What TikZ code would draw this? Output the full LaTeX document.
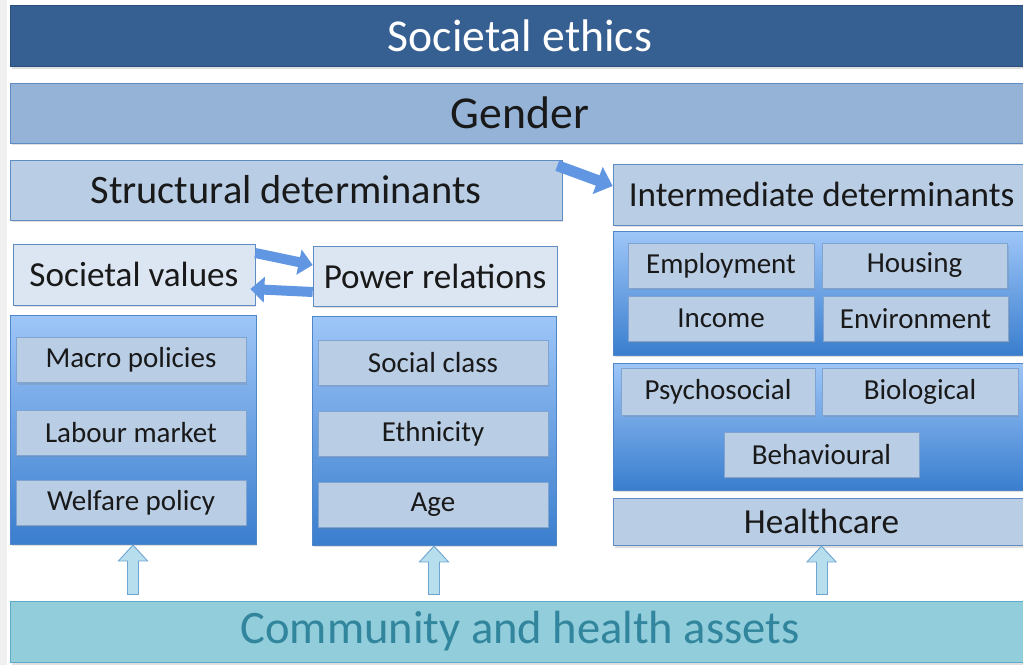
\documentclass[tikz,border=0pt]{standalone}
\usepackage{fontspec}
\setmainfont{Carlito}
\usetikzlibrary{arrows.meta, positioning, calc, shadows}

\definecolor{ethicsfill}{RGB}{55,96,146}
\definecolor{ethicsedge}{RGB}{44,80,125}
\definecolor{genderfill}{RGB}{149,179,215}
\definecolor{edgeblue}{RGB}{96,140,196}
\definecolor{barfill}{RGB}{185,205,229}
\definecolor{palefill}{RGB}{220,230,242}
\definecolor{paneltop}{RGB}{158,198,248}
\definecolor{panelbot}{RGB}{58,126,206}
\definecolor{paneledge}{RGB}{80,135,200}
\definecolor{arrowblue}{RGB}{96,150,226}
\definecolor{assetfill}{RGB}{146,205,220}
\definecolor{assetedge}{RGB}{95,170,200}
\definecolor{assettext}{RGB}{49,133,156}
\definecolor{upfill}{RGB}{183,222,236}
\definecolor{upedge}{RGB}{110,165,210}

\begin{document}
\begin{tikzpicture}[x=0.02cm, y=-0.02cm,
    box/.style={draw=edgeblue, inner sep=0pt, text=black!90,
        drop shadow={opacity=0.25, shadow xshift=0.03cm, shadow yshift=-0.05cm}},
    bar/.style={box, minimum width=20.4cm, minimum height=1.22cm},
    head/.style={box, fill=barfill, minimum height=1.2cm},
    item/.style={box, fill=barfill, draw=edgeblue!80, minimum width=4.6cm,
        minimum height=0.9cm, font=\fontsize{16.5}{18}\selectfont},
    panel/.style={box, draw=paneledge, top color=paneltop, bottom color=panelbot},
    blockarrow/.style={draw=arrowblue, line width=0.2cm,
        -{Triangle[length=0.28cm, width=0.5cm]}},
    upout/.style={draw=upedge, line width=0.24cm, shorten <=0.12cm,
        -{Triangle[length=0.34cm, width=0.6cm]}},
    upin/.style={draw=upfill, line width=0.2cm, shorten <=0.14cm, shorten >=0.035cm,
        -{Triangle[length=0.29cm, width=0.52cm]}}
]
    \useasboundingbox (0,0) rectangle (1023,665);
    \fill[black!6] (0,0) rectangle (7,665);

    % Top bars
    \node[bar, fill=ethicsfill, draw=ethicsedge, text=white,
        font=\fontsize{26}{30}\selectfont] (ethics) at (520,36) {Societal ethics};
    \node[bar, fill=genderfill, minimum height=1.2cm,
        font=\fontsize{26}{30}\selectfont] (gender) at (520,113) {Gender};

    % Determinant headers
    \node[head, minimum width=11.04cm, font=\fontsize{23}{26}\selectfont]
        (struct) at (286,190) {Structural determinants};
    \node[head, minimum width=8.34cm, minimum height=1.22cm,
        font=\fontsize{20}{24}\selectfont] (inter) at (821.5,194.5) {Intermediate determinants};

    % Structural side
    \node[head, fill=palefill, minimum width=4.84cm, minimum height=1.22cm,
        font=\fontsize{20}{24}\selectfont] (values) at (134,274.5) {Societal values};
    \node[head, fill=palefill, minimum width=4.88cm,
        font=\fontsize{20}{24}\selectfont] (power) at (435,276) {Power relations};

    \node[panel, minimum width=4.92cm, minimum height=4.58cm] (policy) at (133,429.5) {};
    \node[item] (macro) at (131,360) {Macro policies};
    \node[item] (labour) at (131,432.5) {Labour market};
    \node[item] (welfare) at (131,502.5) {Welfare policy};

    \node[panel, minimum width=4.88cm, minimum height=4.58cm] (strata) at (434,430.5) {};
    \node[item] (class) at (433,362.5) {Social class};
    \node[item] (ethnic) at (433,433.5) {Ethnicity};
    \node[item] (age) at (433,504.5) {Age};

    % Intermediate side
    \node[panel, minimum width=8.34cm, minimum height=2.48cm] (material) at (821.5,293) {};
    \node[item, minimum width=3.72cm] (employ) at (721,265.5) {Employment};
    \node[item, minimum width=3.7cm] (housing) at (914.5,265.5) {Housing};
    \node[item, minimum width=3.72cm] (income) at (721,318.5) {Income};
    \node[item, minimum width=3.7cm] (environ) at (915.5,318.5) {Environment};

    \node[panel, minimum width=8.34cm, minimum height=2.54cm] (factors) at (821.5,426.5) {};
    \node[item, minimum width=3.88cm, minimum height=0.94cm] (psycho) at (718,391.5) {Psychosocial};
    \node[item, minimum width=3.92cm, minimum height=0.94cm] (bio) at (920,391.5) {Biological};
    \node[item, minimum width=3.9cm] (behav) at (821.5,454.5) {Behavioural};

    \node[head, minimum width=8.34cm, minimum height=0.94cm,
        font=\fontsize{20}{24}\selectfont] (health) at (821.5,521.5) {Healthcare};

    % Assets bar
    \node[bar, fill=assetfill, draw=assetedge, text=assettext,
        font=\fontsize{26.5}{30}\selectfont] (assets) at (520,631.5) {Community and health assets};

    % Block arrows
    \draw[blockarrow, line width=0.22cm, -{Triangle[length=0.32cm, width=0.56cm]}]
        ([xshift=-0.1cm, yshift=-0.12cm]struct.north east) -- ([yshift=0.17cm]inter.west);
    \draw[blockarrow] ([yshift=0.43cm]values.east) -- ([yshift=0.22cm]power.west);
    \draw[blockarrow] ([yshift=-0.32cm]power.west) -- ([xshift=-0.1cm, yshift=-0.29cm]values.east);

    % Hollow up arrows from the assets
    \foreach \t in {policy, strata, health} {
        \draw[upout] (assets.north -| \t.south) -- (\t.south);
        \draw[upin] (assets.north -| \t.south) -- (\t.south);
    }
\end{tikzpicture}
\end{document}
